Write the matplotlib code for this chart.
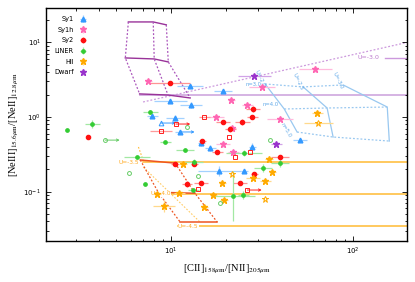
import numpy as np
import matplotlib
matplotlib.use('Agg')
import matplotlib.pyplot as plt

plt.rcParams['mathtext.fontset'] = 'stix'

# ---- observed points (x = [CII]/[NII], y = [NeIII]/[NeII]) ----
sy1_x = [12.7, 9.87, 12.9, 7.87, 10.5, 11.2, 14.6, 16.4, 18.4, 19.3, 27.9, 25.2, 51.1]
sy1_y = [2.61, 1.64, 1.45, 1.03, 0.97, 0.63, 0.45, 0.38, 0.19, 2.25, 0.40, 0.19, 0.49]
sy1_xe = [0.07, 0.09, 0.06, 0.03, 0.05, 0.03, 0.02, 0.03, 0.12, 0.05, 0.02, 0.02, 0.04]
sy1_ye = [0.03, 0.02, 0.04, 0.03, 0.04, 0.03, 0.04, 0.04, 0.07, 0.02, 0.05, 0.02, 0.02]
sy1_open_x = [8.81]
sy1_open_y = [0.83]

sy1h_x = [7.48, 31.6, 61.9, 21.4, 26.2, 17.7, 39.7, 21.6, 19.3, 21.9]
sy1h_y = [3.04, 2.53, 4.41, 1.69, 1.45, 1.0, 0.94, 0.71, 0.43, 0.34]
sy1h_xe = [0.02, 0.07, 0.09, 0.02, 0.03, 0.04, 0.07, 0.02, 0.04, 0.03]
sy1h_ye = [0.02, 0.02, 0.04, 0.03, 0.03, 0.03, 0.03, 0.02, 0.03, 0.02]

sy2_x = [9.87, 3.50, 28.2, 27.9, 19.3, 24.6, 21.1, 14.8, 17.9, 39.7, 10.5, 13.4, 12.2, 14.6, 28.6, 23.9]
sy2_y = [2.86, 0.54, 1.28, 1.0, 0.86, 0.86, 0.69, 0.48, 0.34, 0.29, 0.234, 0.234, 0.126, 0.130, 0.172, 0.130]
sy2_xe = [0.11, 0.01, 0.04, 0.03, 0.04, 0.04, 0.03, 0.02, 0.03, 0.05, 0.02, 0.02, 0.03, 0.04, 0.02, 0.04]
sy2_ye = [0.02, 0.01, 0.04, 0.02, 0.03, 0.04, 0.04, 0.03, 0.02, 0.03, 0.03, 0.03, 0.04, 0.03, 0.02, 0.02]
sy2_open_x = [15.2, 10.6, 8.81, 20.8, 27.2, 22.5, 14.1, 26.2]
sy2_open_y = [1.0, 0.805, 0.649, 0.54, 0.34, 0.29, 0.108, 0.105]
sy2_open_xe = [0.03, 0.0, 0.06, 0.0, 0.0, 0.0, 0.0, 0.0]

liner_x = [7.67, 2.68, 3.68, 6.50, 7.19, 9.27, 11.9, 13.4, 13.2, 25.2, 39.7, 32.0, 21.9, 24.9]
liner_y = [1.17, 0.669, 0.805, 0.29, 0.126, 0.462, 0.361, 0.249, 0.105, 0.329, 0.241, 0.207, 0.087, 0.090]
liner_xe = [0.04, 0.0, 0.04, 0.07, 0.0, 0.03, 0.05, 0.05, 0.03, 0.1, 0.05, 0.05, 0.12, 0.03]
liner_ye = [0.03, 0.0, 0.05, 0.0, 0.0, 0.0, 0.0, 0.04, 0.0, 0.04, 0.05, 0.05, 0.33, 0.05]
liner_open_x = [12.2, 4.34, 5.88, 14.1, 35.0, 18.6]
liner_open_y = [0.734, 0.49, 0.177, 0.162, 0.49, 0.070]

hii_x = [63.5, 11.6, 34.5, 35.9, 19.1, 32.8, 8.38, 11.07, 9.15, 15.2, 17.0, 19.5, 28.2]
hii_y = [1.13, 0.234, 0.273, 0.183, 0.130, 0.138, 0.093, 0.095, 0.064, 0.062, 0.090, 0.077, 0.152]
hii_xe = [0.03, 0.02, 0.02, 0.02, 0.02, 0.03, 0.02, 0.03, 0.06, 0.02, 0.02, 0.02, 0.04]
hii_ye = [0.02, 0.02, 0.02, 0.02, 0.02, 0.03, 0.02, 0.02, 0.08, 0.02, 0.02, 0.02, 0.02]
hii_open_x = [64.3, 32.8, 21.6]
hii_open_y = [0.83, 0.079, 0.172]
hii_open_xe = [0.08, 0.0, 0.0]

dwarf_x = [28.6, 37.8]
dwarf_y = [3.55, 0.434]
dwarf_xe = [0.09, 0.03]
dwarf_ye = [0.02, 0.02]

# lower limits drawn with arrows
arrow_x = [11.2, 8.81, 10.6, 26.2, 4.34]
arrow_y = [0.63, 0.83, 0.805, 0.105, 0.49]
arrow_c = ['#3399ff', '#3399ff', '#ff2020', '#ff2020', '#66cc66']

# ---- model grids ----
pur_rows_x = [[5.81, 7.96, 9.39], [5.59, 8.06, 9.63], [6.7, 9.6, 12.7]]
pur_rows_y = [[18.8, 18.8, 17.2], [6.19, 6.0, 5.47], [2.04, 1.97, 1.80]]
pur_long_x = [6.7, 198]
pur_long_y = [1.97, 1.97]
pur_slope_x = [7.0, 193]
pur_slope_y = [1.59, 9.85]
pur_right_x = [150, 198]
pur_right_y = [6.19, 6.19]

blue_cols_x = [[32.8, 41.8, 49.2], [53.1, 71.9, 77.6], [88.1, 154, 158]]
blue_cols_y = [[2.77, 1.28, 0.629], [2.53, 1.32, 0.539], [2.69, 1.36, 0.476]]

hii_lines_y = [0.249, 0.093, 0.0344]
hii_lines_x0 = [7.02, 8.38, 10.9]
red_rows_x = [[6.76, 10.5], [8.48, 13.5], [11.2, 17.9]]
red_rows_y = [[0.265, 0.241], [0.098, 0.095], [0.039, 0.039]]


def light(c, a=0.45):
    r, g, b = matplotlib.colors.to_rgb(c)
    return (r + (1 - r) * (1 - a), g + (1 - g) * (1 - a), b + (1 - b) * (1 - a))


def dex_err(v, e):
    v = np.array(v)
    e = np.array(e)
    return [v - v / 10 ** e, v * 10 ** e - v]


fig, ax = plt.subplots(figsize=(4.15, 2.82), dpi=100)
fig.subplots_adjust(left=0.111, right=0.981, bottom=0.145, top=0.972)
ax.set_xscale('log')
ax.set_yscale('log')

# purple grid
pc = '#993399'
for rx, ry in zip(pur_rows_x, pur_rows_y):
    ax.plot(rx, ry, color=pc, lw=1.0, zorder=2)
for j in range(3):
    ax.plot([r[j] for r in pur_rows_x], [r[j] for r in pur_rows_y], color='#aa55bb', lw=0.9,
            ls=(0, (1.5, 1.5)), zorder=2)
ax.plot(pur_long_x, pur_long_y, color='#d2aee0', lw=1.3, zorder=1)
ax.plot(pur_slope_x, pur_slope_y, color='#cc99dd', lw=0.9, ls=(0, (1.5, 1.5)), zorder=1)
ax.plot(pur_right_x, pur_right_y, color='#cc99dd', lw=1.0, zorder=1)
ax.text(121, 6.19, 'U=-3.0', color='#bb77cc', fontsize=4.5, ha='center', va='center')

# blue grid
bc = '#99c8f0'
for cx, cy in zip(blue_cols_x, blue_cols_y):
    ax.plot(cx, cy, color=bc, lw=0.9, zorder=1)
for j in range(3):
    ax.plot([c[j] for c in blue_cols_x], [c[j] for c in blue_cols_y], color=bc, lw=0.9,
            ls=(0, (1.5, 1.5)), zorder=1)
for (lx, ly, t) in [(30.5, 3.3, 'U=-2.0'), (49.5, 3.0, 'U=-2.5'), (82, 3.1, 'U=-3.0')]:
    ax.text(lx, ly, t, color='#5fa8e8', fontsize=3.8, rotation=-65, ha='center', va='center')
ax.text(28.5, 2.74, 'n=3.0', color='#5fa8e8', fontsize=3.8, ha='center', va='center')
ax.text(35.0, 1.45, 'n=4.0', color='#5fa8e8', fontsize=3.8, ha='center', va='center')
ax.text(42.5, 0.66, 'n=5.0', color='#5fa8e8', fontsize=3.8, rotation=-60, ha='center', va='center')

# HII grid
oc = '#ffbb33'
for y0, x0 in zip(hii_lines_y, hii_lines_x0):
    ax.plot([x0, 198], [y0, y0], color=oc, lw=1.1, zorder=1)
rc = '#ee5522'
for rx, ry in zip(red_rows_x, red_rows_y):
    ax.plot(rx, ry, color=rc, lw=1.1, zorder=2)
for j in range(2):
    ax.plot([r[j] for r in red_rows_x], [r[j] for r in red_rows_y], color=rc, lw=0.9,
            ls=(0, (1.5, 1.5)), zorder=2)
ax.plot([7.02, 14.4], [0.213, 0.039], color='#ffcc66', lw=0.8, ls=(0, (1.5, 1.5)), zorder=1)
ax.plot([6.6, 7.0], [0.396, 0.265], color='#ffbb33', lw=0.8, ls=(0, (1.5, 1.5)), zorder=1)
for (lx, ly, t) in [(5.81, 0.249, 'U=-3.5'), (8.71, 0.093, 'U=-4.0'), (12.4, 0.034, 'U=-4.5')]:
    ax.text(lx, ly, t, color='#ffaa22', fontsize=4.2, ha='center', va='center',
            bbox=dict(fc='white', ec='none', pad=0.2))

# data points
groups = [
    ('Sy1', sy1_x, sy1_y, sy1_xe, sy1_ye, '#3399ff', '^', 3.4),
    ('Sy1h', sy1h_x, sy1h_y, sy1h_xe, sy1h_ye, '#ff66b3', '*', 4.8),
    ('Sy2', sy2_x, sy2_y, sy2_xe, sy2_ye, '#ff1010', 'o', 3.0),
    ('LINER', liner_x, liner_y, liner_xe, liner_ye, '#33cc33', 'o', 2.4),
    ('HII', hii_x, hii_y, hii_xe, hii_ye, '#ffaa00', '*', 4.8),
    ('Dwarf', dwarf_x, dwarf_y, dwarf_xe, dwarf_ye, '#9933cc', '*', 4.8),
]
for name, x, y, xe, ye, c, m, ms in groups:
    ax.errorbar(x, y, xerr=dex_err(x, xe), yerr=dex_err(y, ye), fmt=m, color=c, ms=ms,
                mec=c, ecolor=light(c), elinewidth=0.9, capsize=0, label=name, zorder=4)

opens = [
    (sy1_open_x, sy1_open_y, [0.0], '#3399ff', '^', 3.4),
    (sy2_open_x, sy2_open_y, sy2_open_xe, '#ff2020', 's', 3.0),
    (liner_open_x, liner_open_y, [0.0] * 6, '#66cc66', 'o', 2.8),
    (hii_open_x, hii_open_y, hii_open_xe, '#ffaa00', '*', 4.8),
]
for x, y, xe, c, m, ms in opens:
    ax.errorbar(x, y, xerr=dex_err(x, xe), fmt=m, color=c, ms=ms, mfc='none', mec=c, mew=0.7,
                ecolor=light(c), elinewidth=0.9, capsize=0, zorder=4)

for x, y, c in zip(arrow_x, arrow_y, arrow_c):
    ax.annotate('', xy=(x * 1.2, y), xytext=(x, y),
                arrowprops=dict(arrowstyle='->', color=c, lw=0.7, mutation_scale=4,
                                shrinkA=0, shrinkB=0), zorder=3)

ax.set_xlim(2.05, 198)
ax.set_ylim(0.0217, 29)
ax.tick_params(which='both', direction='in', top=True, right=True, labelsize=5, width=0.6)
ax.tick_params(which='major', length=3.5)
ax.tick_params(which='minor', length=1.8)
for s in ax.spines.values():
    s.set_linewidth(1.0)

ax.set_xlabel(r'[CII]$_{158\mu\mathrm{m}}$/[NII]$_{205\mu\mathrm{m}}$', fontsize=7.5,
              family='Liberation Serif', labelpad=4)
ax.set_ylabel(r'[NeIII]$_{15.6\mu\mathrm{m}}$/[NeII]$_{12.8\mu\mathrm{m}}$', fontsize=7.5,
              family='Liberation Serif', labelpad=2)

ax.legend(loc='upper left', markerfirst=False, frameon=False, fontsize=4.8,
          handlelength=1.2, labelspacing=0.7, borderaxespad=0.8, handletextpad=0.8)

plt.savefig('out.png', dpi=100)
